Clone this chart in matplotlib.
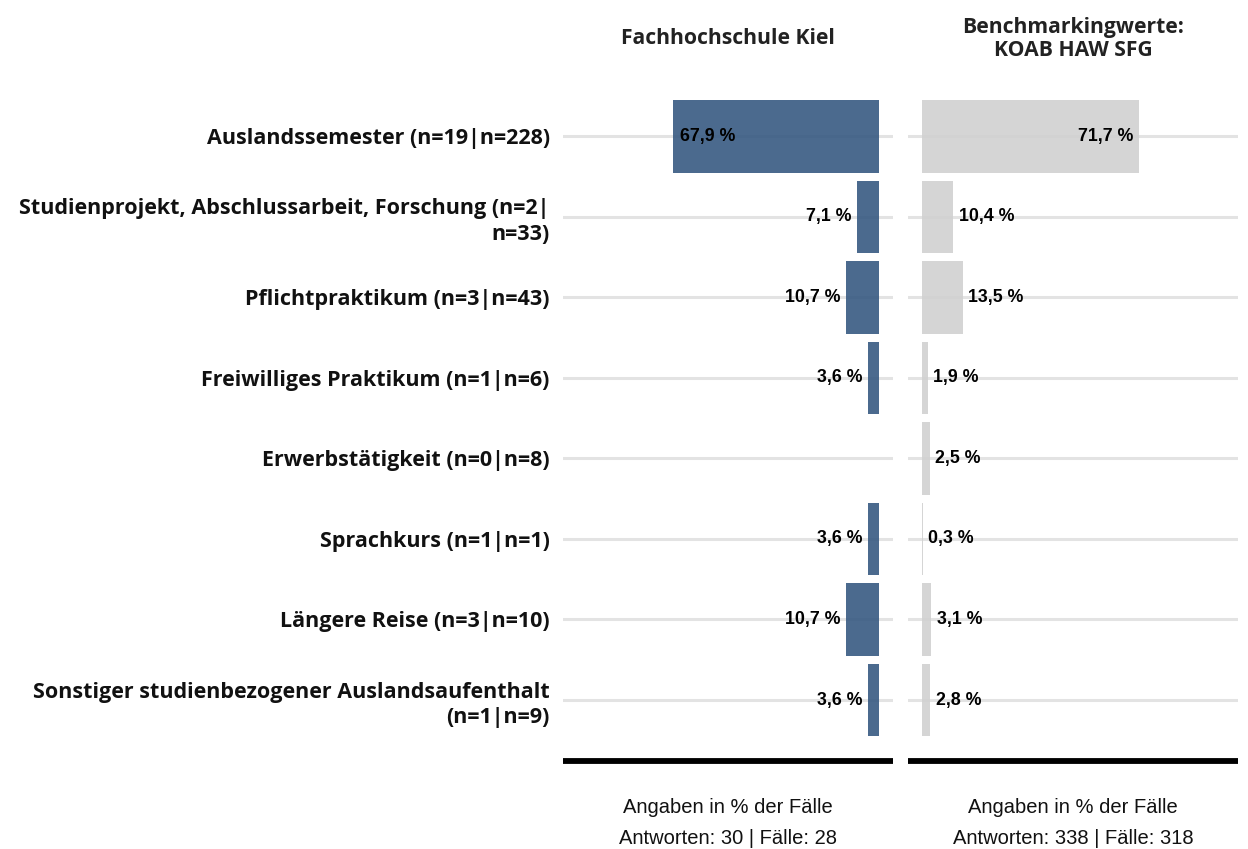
import matplotlib
matplotlib.use("Agg")
import matplotlib.pyplot as plt

categories = [
    "Auslandssemester (n=19|n=228)",
    "Studienprojekt, Abschlussarbeit, Forschung (n=2|\nn=33)",
    "Pflichtpraktikum (n=3|n=43)",
    "Freiwilliges Praktikum (n=1|n=6)",
    "Erwerbstätigkeit (n=0|n=8)",
    "Sprachkurs (n=1|n=1)",
    "Längere Reise (n=3|n=10)",
    "Sonstiger studienbezogener Auslandsaufenthalt\n(n=1|n=9)",
]
fh_kiel = [67.9, 7.1, 10.7, 3.6, 0.0, 3.6, 10.7, 3.6]
benchmark = [71.7, 10.4, 13.5, 1.9, 2.5, 0.3, 3.1, 2.8]

titles = ["Fachhochschule Kiel", "Benchmarkingwerte:\nKOAB HAW SFG"]
footers = ["Angaben in % der Fälle\nAntworten: 30 | Fälle: 28",
           "Angaben in % der Fälle\nAntworten: 338 | Fälle: 318"]

label_font = "Open Sans"
num_font = "Liberation Sans"

fig = plt.figure(figsize=(12.48, 8.49), dpi=100)
ax_l = fig.add_axes([0.4511, 0.1037, 0.2644, 0.7926])
ax_r = fig.add_axes([0.7276, 0.1037, 0.2644, 0.7926])

ypos = list(range(len(categories)))

def fmt(v):
    return f"{v:.1f} %".replace(".", ",")

for ax, vals, color, title, footer in [
    (ax_l, fh_kiel, "#375a82", titles[0], footers[0]),
    (ax_r, benchmark, "#d1d1d1", titles[1], footers[1]),
]:
    for y in ypos:
        ax.axhline(y, color="#e3e3e3", lw=2.2, zorder=1)
    ax.barh(ypos, vals, height=0.9, color=color, alpha=0.9, zorder=2)
    ax.set_ylim(len(categories) - 0.243, -0.6)
    for s in ["top", "left", "right"]:
        ax.spines[s].set_visible(False)
    ax.spines["bottom"].set_linewidth(4.2)
    ax.spines["bottom"].set_color("black")
    ax.spines["bottom"].set_capstyle("butt")
    ax.set_xticks([])
    ax.tick_params(axis="y", length=0)
    ax.text(0.5, 1.0 + 49 / 672, title, transform=ax.transAxes, ha="center",
            va="center", fontsize=15.2, fontweight="bold", family=label_font,
            color="#222222", linespacing=1.12)
    ax.text(0.5, -62 / 672, footer, transform=ax.transAxes, ha="center",
            va="center", fontsize=14.5, family=num_font, linespacing=1.8,
            color="#111111")

ax_l.set_xlim(104.3, -4.7)
ax_r.set_xlim(-4.6, 104.4)

ax_l.set_yticks(ypos)
ax_l.set_yticklabels(categories, fontsize=15.5, fontweight="bold",
                     family=label_font, ha="right", multialignment="right",
                     color="#111111", linespacing=1.3)
ax_l.tick_params(axis="y", pad=9.5)
ax_r.set_yticks([])

for y, v in enumerate(fh_kiel):
    if v <= 0:
        continue
    if v > 40:
        ax_l.annotate(fmt(v), (v, y), xytext=(5, 0), textcoords="offset points",
                      ha="left", va="center", fontsize=12.8, fontweight="bold",
                      family=num_font, zorder=3)
    else:
        ax_l.annotate(fmt(v), (v, y), xytext=(-4, 0), textcoords="offset points",
                      ha="right", va="center", fontsize=12.8, fontweight="bold",
                      family=num_font, zorder=3)

for y, v in enumerate(benchmark):
    if v > 40:
        ax_r.annotate(fmt(v), (v, y), xytext=(-4, 0), textcoords="offset points",
                      ha="right", va="center", fontsize=12.8, fontweight="bold",
                      family=num_font, zorder=3)
    else:
        ax_r.annotate(fmt(v), (v, y), xytext=(4, 0), textcoords="offset points",
                      ha="left", va="center", fontsize=12.8, fontweight="bold",
                      family=num_font, zorder=3)

fig.savefig("out.png", dpi=100)
